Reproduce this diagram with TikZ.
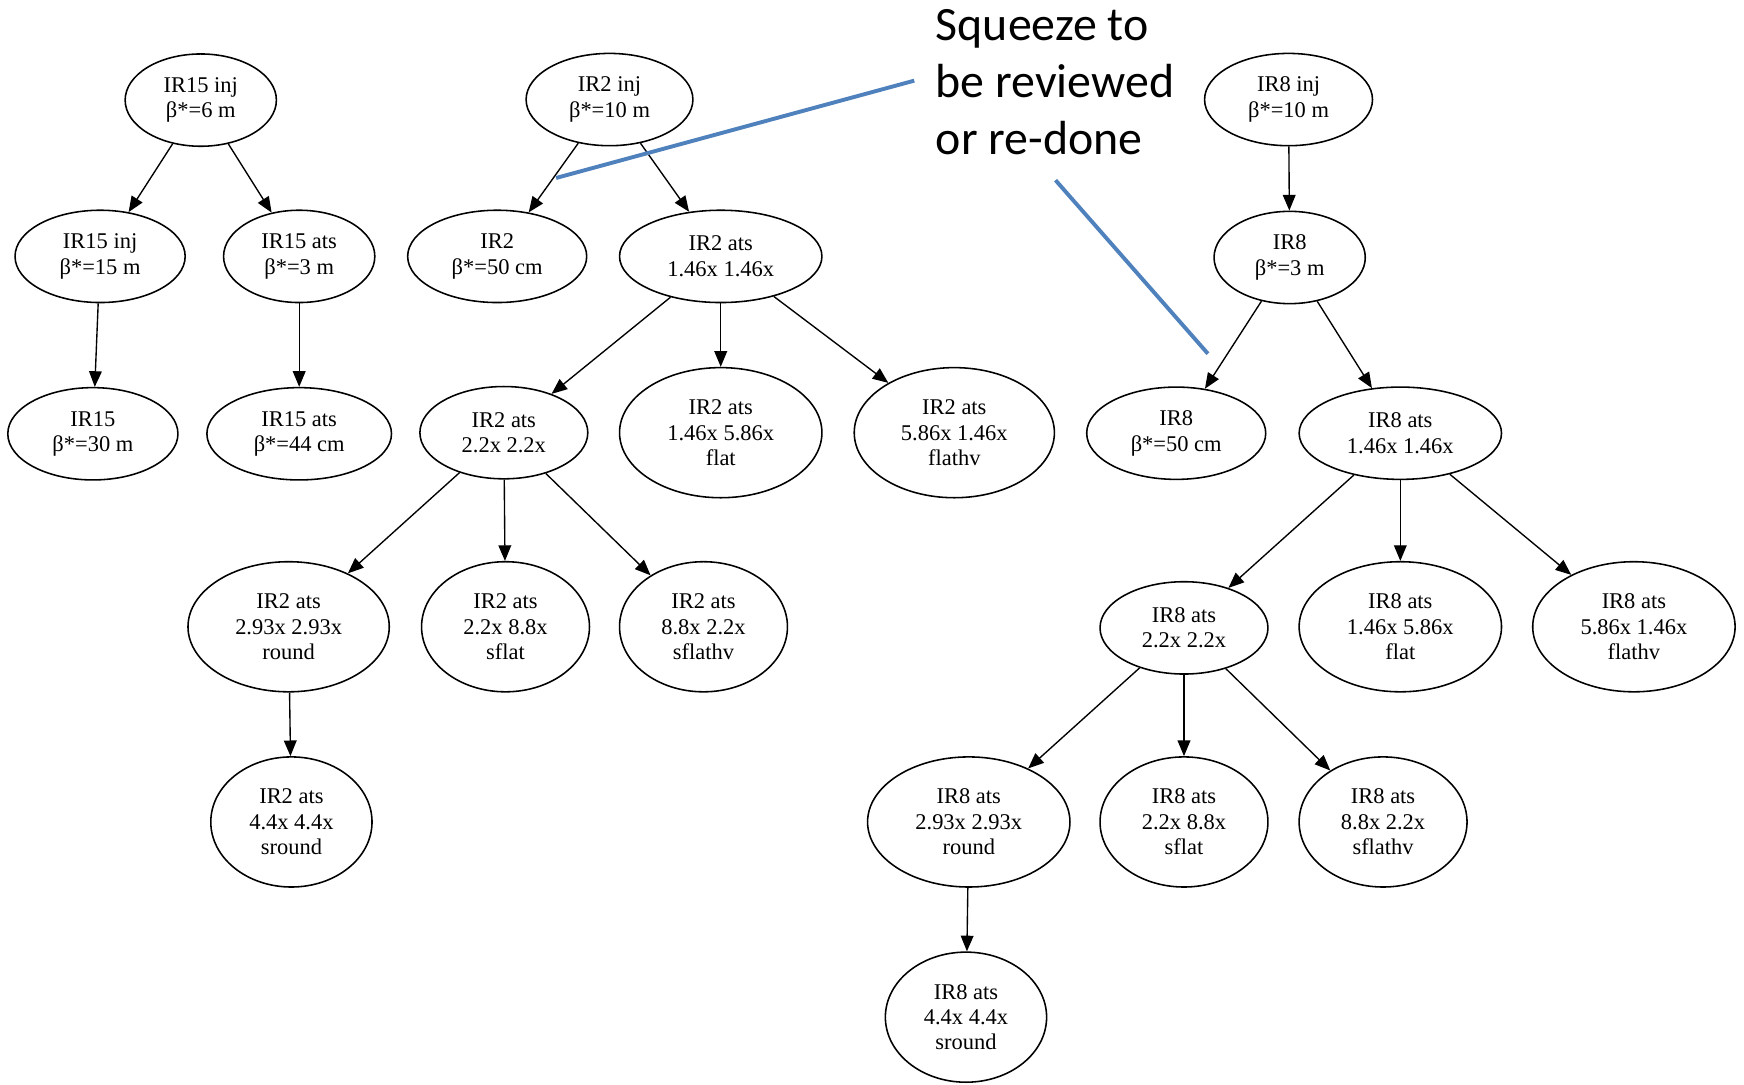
\documentclass[tikz,border=0pt]{standalone}
\usepackage{fontspec}
\setmainfont{Liberation Serif}
\newfontfamily\notefont{Carlito}
\usepackage{tikz}
\usetikzlibrary{arrows.meta, shapes.geometric}
\definecolor{noteblue}{RGB}{79, 129, 189}

\begin{document}
\begin{tikzpicture}[x=0.02cm, y=-0.02cm, font=\fontsize{11.5}{13}\selectfont,
    optic/.style={ellipse, draw, line width=0.8pt, inner sep=0pt, align=center, minimum height=1.66cm},
    optic3/.style={optic, minimum height=2.34cm},
    edge/.style={-{Triangle[length=8pt, width=6.5pt]}, line width=0.7pt},
    note/.style={font=\notefont\fontsize{24.5}{29.3}\selectfont, align=left, inner sep=0pt}]
                \useasboundingbox (0,0) rectangle (1568,975);

                % IR15 branch
                \node[optic, minimum width=2.72cm] (ir15inj) at (180.5,90) {IR15 inj\\β*=6 m};
                \node[optic, minimum width=3.06cm] (ir15injb) at (90,230.5) {IR15 inj\\β*=15 m};
                \node[optic, minimum width=2.72cm] (ir15ats) at (269,230.5) {IR15 ats\\β*=3 m};
                \node[optic, minimum width=3.06cm] (ir15) at (83.5,390) {IR15\\β*=30 m};
                \node[optic, minimum width=3.32cm] (ir15atsb) at (269,390) {IR15 ats\\β*=44 cm};

                % IR2 branch
                \node[optic, minimum width=3.0cm] (ir2inj) at (548,89.5) {IR2 inj\\β*=10 m};
                \node[optic, minimum width=3.22cm] (ir2) at (447,230.5) {IR2\\β*=50 cm};
                \node[optic, minimum width=3.64cm] (ir2ats) at (648,230.5) {IR2 ats\\1.46x 1.46x};
                \node[optic, minimum width=3.02cm] (ir2mid) at (453,389) {IR2 ats\\2.2x 2.2x};
                \node[optic3, minimum width=3.64cm] (ir2flat) at (648,389) {IR2 ats\\1.46x 5.86x\\flat};
                \node[optic3, minimum width=3.6cm] (ir2flathv) at (858,389) {IR2 ats\\5.86x 1.46x\\flathv};
                \node[optic3, minimum width=3.62cm] (ir2round) at (259.5,563.5) {IR2 ats\\2.93x 2.93x\\round};
                \node[optic3, minimum width=3.02cm] (ir2sflat) at (454.5,563.5) {IR2 ats\\2.2x 8.8x\\sflat};
                \node[optic3, minimum width=3.02cm] (ir2sflathv) at (632.5,563.5) {IR2 ats\\8.8x 2.2x\\sflathv};
                \node[optic3, minimum width=2.9cm] (ir2sround) at (262,739) {IR2 ats\\4.4x 4.4x\\sround};

                % IR8 branch
                \node[optic, minimum width=3.02cm] (ir8inj) at (1158.5,89.5) {IR8 inj\\β*=10 m};
                \node[optic, minimum width=2.72cm] (ir8) at (1159.5,231.5) {IR8\\β*=3 m};
                \node[optic, minimum width=3.22cm] (ir8b) at (1057.5,389.5) {IR8\\β*=50 cm};
                \node[optic, minimum width=3.64cm] (ir8ats) at (1259,389.5) {IR8 ats\\1.46x 1.46x};
                \node[optic, minimum width=3.02cm] (ir8mid) at (1064.5,564.5) {IR8 ats\\2.2x 2.2x};
                \node[optic3, minimum width=3.64cm] (ir8flat) at (1259,563.5) {IR8 ats\\1.46x 5.86x\\flat};
                \node[optic3, minimum width=3.64cm] (ir8flathv) at (1469,563.5) {IR8 ats\\5.86x 1.46x\\flathv};
                \node[optic3, minimum width=3.64cm] (ir8round) at (871,739) {IR8 ats\\2.93x 2.93x\\round};
                \node[optic3, minimum width=3.02cm] (ir8sflat) at (1064.5,739) {IR8 ats\\2.2x 8.8x\\sflat};
                \node[optic3, minimum width=3.02cm] (ir8sflathv) at (1243.5,739) {IR8 ats\\8.8x 2.2x\\sflathv};
                \node[optic3, minimum width=2.9cm] (ir8sround) at (868.5,914.5) {IR8 ats\\4.4x 4.4x\\sround};

                % edges
                \draw[edge] (ir15inj) -- (ir15injb);
                \draw[edge] (ir15inj) -- (ir15ats);
                \draw[edge] (ir15injb) -- (ir15);
                \draw[edge] (ir15ats) -- (ir15atsb);

                \draw[edge] (ir2inj) -- (ir2);
                \draw[edge] (ir2inj) -- (ir2ats);
                \draw[edge] (ir2ats) -- (ir2mid);
                \draw[edge] (ir2ats) -- (ir2flat);
                \draw[edge] (ir2ats) -- (ir2flathv);
                \draw[edge] (ir2mid) -- (ir2round);
                \draw[edge] (ir2mid) -- (ir2sflat);
                \draw[edge] (ir2mid) -- (ir2sflathv);
                \draw[edge] (ir2round) -- (ir2sround);

                \draw[edge] (ir8inj) -- (ir8);
                \draw[edge] (ir8) -- (ir8b);
                \draw[edge] (ir8) -- (ir8ats);
                \draw[edge] (ir8ats) -- (ir8mid);
                \draw[edge] (ir8ats) -- (ir8flat);
                \draw[edge] (ir8ats) -- (ir8flathv);
                \draw[edge] (ir8mid) -- (ir8round);
                \draw[edge] (ir8mid) -- (ir8sflat);
                \draw[edge] (ir8mid) -- (ir8sflathv);
                \draw[edge] (ir8round) -- (ir8sround);

                % annotation
                \node[note, anchor=north west] (squeeze) at (841,8) {Squeeze to\\be reviewed\\or re-done};
                \coordinate (noteA) at (822,72.5);
                \coordinate (pinA) at (500,160);
                \coordinate (noteB) at (949,162);
                \coordinate (pinB) at (1086,318);
                \draw[noteblue, line width=2pt] (noteA) -- (pinA);
                \draw[noteblue, line width=2pt] (noteB) -- (pinB);
            \end{tikzpicture}
\end{document}
